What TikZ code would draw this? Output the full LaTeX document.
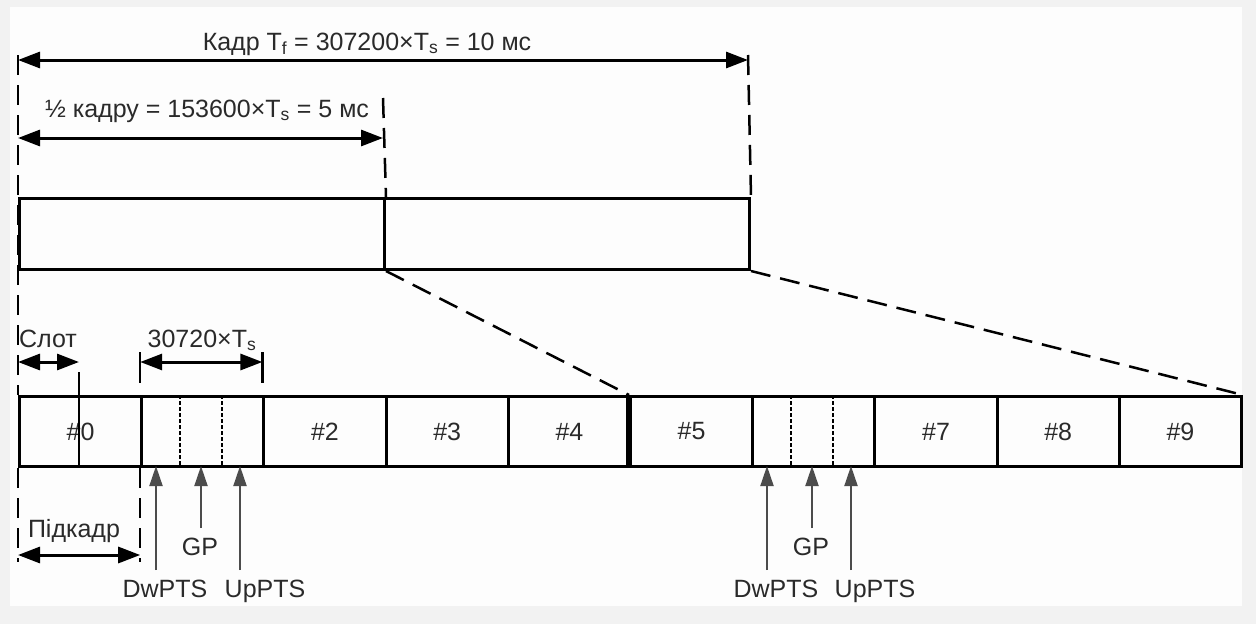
\documentclass[tikz,border=0pt]{standalone}
\usepackage{fontspec}
\setmainfont{Liberation Sans}
\usetikzlibrary{arrows.meta,calc}
\definecolor{txt}{HTML}{2A2A2A}
\definecolor{bgout}{HTML}{F2F2F2}
\definecolor{bgin}{HTML}{FDFDFD}
\tikzset{
  frame/.style={draw=black, line width=3pt, inner sep=0pt, anchor=north west},
  slotbox/.style={draw=black, line width=3pt, minimum width=122.2pt, minimum height=70pt, inner sep=0pt, anchor=north west, text=txt},
  dimarrow/.style={line width=3pt, {Triangle[length=22pt,width=16pt]}-{Triangle[length=22pt,width=16pt]}},
  guide/.style={line width=2.5pt, dash pattern=on 20pt off 10pt},
  sepline/.style={line width=2.5pt, dash pattern=on 3.5pt off 2.5pt},
  uparr/.style={line width=2pt, draw=black!70, -{Triangle[length=20pt,width=13pt]}},
  lbl/.style={inner sep=0pt, anchor=base, text=txt},
  tick/.style={line width=2.5pt},
}
\begin{document}
\begin{tikzpicture}[x=1pt,y=-1pt,font=\fontsize{25}{30}\selectfont]
\useasboundingbox (0,0) rectangle (1256,624);
\fill[bgout] (0,0) rectangle (1256,624);
\fill[bgin] (10,7) rectangle (1242,606);

% upper frame
\node[frame, minimum width=365pt, minimum height=71pt] (h1) at (18,197) {};
\node[frame, minimum width=365pt, minimum height=71pt] (h2) at (383,197) {};

% slots
\node[slotbox] (s0) at (18,395) {\#0};
\node[slotbox] (s1) at (140.2,395) {};
\node[slotbox] (s2) at (262.4,395) {\#2};
\node[slotbox] (s3) at (384.6,395) {\#3};
\node[slotbox] (s4) at (506.8,395) {\#4};
\node[slotbox] (s5) at (629,395) {\#5};
\node[slotbox] (s6) at (751.2,395) {};
\node[slotbox] (s7) at (873.4,395) {\#7};
\node[slotbox] (s8) at (995.6,395) {\#8};
\node[slotbox] (s9) at (1117.8,395) {\#9};
\draw[line width=5.5pt] (s5.north west) -- (s5.south west);

% special subframe separators
\draw[sepline] ($(s1.north west)+(40,0)$) -- ($(s1.south west)+(40,0)$);
\draw[sepline] ($(s1.north west)+(82,0)$) -- ($(s1.south west)+(82,0)$);
\draw[sepline] ($(s6.north west)+(40,0)$) -- ($(s6.south west)+(40,0)$);
\draw[sepline] ($(s6.north west)+(82,0)$) -- ($(s6.south west)+(82,0)$);

% guide lines
\coordinate (gL) at (18,55);
\coordinate (gR) at (748,55);
\coordinate (gM) at (383,98);
\draw[guide] (gL) -- (s0.north west);
\draw[guide] (gR) -- (h2.north east);
\draw[guide] (gM) -- (h1.north east);
\draw[guide] (h1.south east) -- (s5.north west);
\draw[guide] (h2.south east) -- (s9.north east);
\coordinate (gB0) at (18,562);
\coordinate (gB1) at (140.2,562);
\draw[guide] (s0.south west) -- (gB0);
\draw[guide] (s1.south west) -- (gB1);

% frame arrow
\coordinate (fA) at (18,60);
\coordinate (fB) at (748,60);
\draw[dimarrow] (fA) -- (fB);
\node[lbl] (tf) at (367,50) {Кадр T\textsubscript{f} = 307200×T\textsubscript{s} = 10 мс};

% half frame arrow
\coordinate (hA) at (18,138);
\coordinate (hB) at (383,138);
\draw[dimarrow] (hA) -- (hB);
\node[lbl] (th) at (207,117) {½ кадру = 153600×T\textsubscript{s} = 5 мс};

% slot arrow
\coordinate (slA) at (18,362);
\coordinate (slB) at (79,362);
\coordinate (slT) at (79,372);
\coordinate (slU) at (79,465);
\draw[tick] (slT) -- (slU);
\draw[dimarrow] (slA) -- (slB);
\node[lbl] (tslot) at (48,347) {Слот};

% 30720 arrow
\coordinate (kA) at (140.2,362);
\coordinate (kB) at (262.4,362);
\draw[tick] (140.2,352) -- (140.2,383);
\draw[tick] (262.4,352) -- (262.4,383);
\draw[dimarrow] (kA) -- (kB);
\node[lbl] (tk) at (202,347) {30720×T\textsubscript{s}};

% subframe arrow
\coordinate (pA) at (18,555);
\coordinate (pB) at (140.2,555);
\draw[dimarrow] (pA) -- (pB);
\node[lbl] (tp) at (74,537) {Підкадр};

% pointers, first special subframe
\coordinate (a1d) at (156,570);  \coordinate (b1d) at (156,466);
\coordinate (a1g) at (201,528);  \coordinate (b1g) at (201,466);
\coordinate (a1u) at (240,570);  \coordinate (b1u) at (240,466);
\draw[uparr] (a1d) -- (b1d);
\draw[uparr] (a1g) -- (b1g);
\draw[uparr] (a1u) -- (b1u);
\node[lbl] (d1) at (165,597) {DwPTS};
\node[lbl] (g1) at (200,555) {GP};
\node[lbl] (u1) at (265,597) {UpPTS};

% pointers, second special subframe
\coordinate (a2d) at (767,570);  \coordinate (b2d) at (767,466);
\coordinate (a2g) at (812,528);  \coordinate (b2g) at (812,466);
\coordinate (a2u) at (851,570);  \coordinate (b2u) at (851,466);
\draw[uparr] (a2d) -- (b2d);
\draw[uparr] (a2g) -- (b2g);
\draw[uparr] (a2u) -- (b2u);
\node[lbl] (d2) at (776,597) {DwPTS};
\node[lbl] (g2) at (811,555) {GP};
\node[lbl] (u2) at (875,597) {UpPTS};
\end{tikzpicture}
\end{document}
